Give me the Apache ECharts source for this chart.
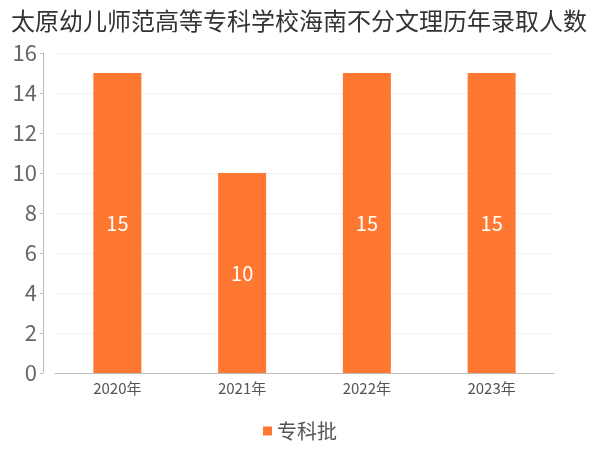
<!DOCTYPE html>
<html><head><meta charset="utf-8">
<script src="https://cdn.jsdelivr.net/npm/echarts@6/dist/echarts.min.js"></script>
<style>html,body{margin:0;padding:0;background:#fff}#c{width:600px;height:450px}</style>
</head><body><div id="c"></div>
<script>
const titleText = '太原幼儿师范高等专科学校海南不分文理历年录取人数';
const categories = ['2020年', '2021年', '2022年', '2023年'];
const seriesName = '专科批';
const values = [15, 10, 15, 15];
const yTicks = { min: 0, max: 16, interval: 2 };

const font = '"Noto Sans CJK SC", "Noto Sans", sans-serif';
const chart = echarts.init(document.getElementById('c'), null, { renderer: 'canvas' });
chart.setOption({
  animation: false,
  textStyle: { fontFamily: font },
  title: {
    text: titleText, left: 6, top: 4,
    textStyle: { fontSize: 24, fontWeight: 'normal', color: '#333', fontFamily: font }
  },
  legend: {
    data: [seriesName], bottom: 4, left: 'center',
    icon: 'rect', itemWidth: 9, itemHeight: 9, itemGap: 6,
    textStyle: { fontSize: 20, color: '#555', fontFamily: font }
  },
  grid: { left: 55, right: 46, top: 53, bottom: 77, containLabel: false },
  xAxis: {
    type: 'category', data: categories,
    axisLine: { lineStyle: { color: '#bbb' } },
    axisTick: { alignWithLabel: true, length: 4, lineStyle: { color: '#bbb' } },
    axisLabel: { fontSize: 15, color: '#555', margin: 8, fontFamily: font }
  },
  yAxis: {
    type: 'value', min: yTicks.min, max: yTicks.max, interval: yTicks.interval,
    offset: 12,
    axisLine: { show: true, lineStyle: { color: '#bbb' } },
    axisTick: { show: true, length: 3, lineStyle: { color: '#bbb' } },
    axisLabel: { fontSize: 22, color: '#666', margin: 6, fontFamily: font },
    splitLine: { lineStyle: { color: '#f2f2f2' } }
  },
  series: [{
    name: seriesName, type: 'bar', data: values, barWidth: 48,
    itemStyle: { color: '#fe7832' },
    label: { show: true, position: 'inside', color: '#fff', fontSize: 20, fontFamily: font }
  }]
});
</script></body></html>
